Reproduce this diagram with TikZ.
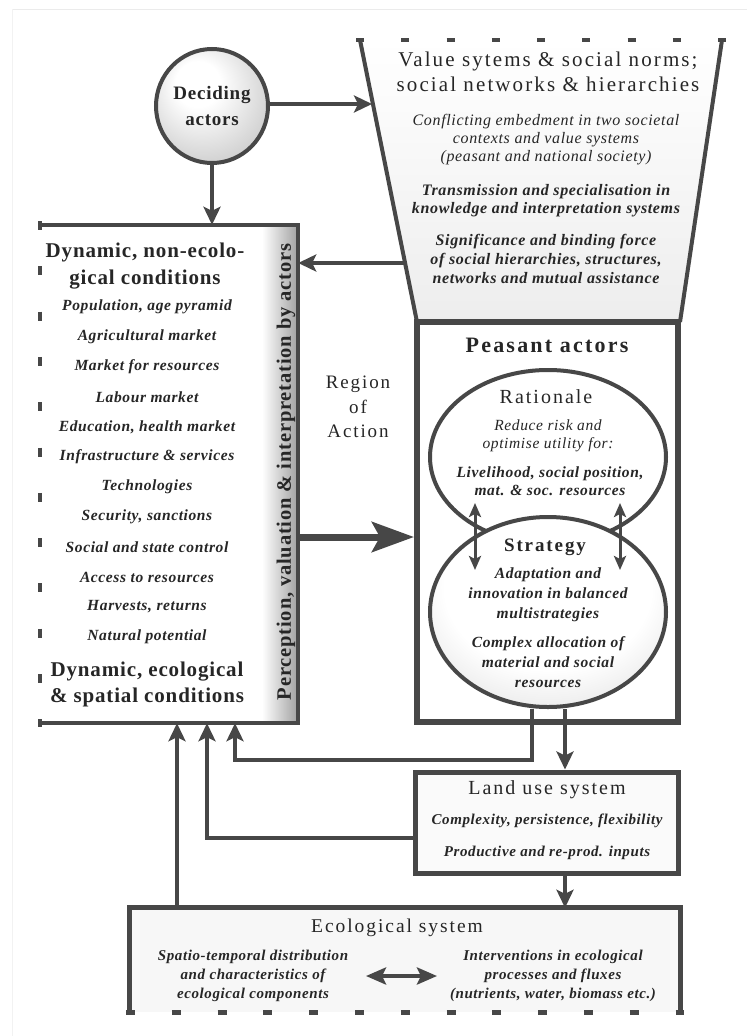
\documentclass[tikz,border=0pt]{standalone}
\usepackage{fontspec}
\setmainfont[LetterSpace=4]{Liberation Serif}
\newfontfamily\wide[LetterSpace=10]{Liberation Serif}
\usetikzlibrary{arrows.meta,shapes.geometric,calc}
\newcommand\fsz[2]{\fontsize{#1}{#2}\selectfont}
\pgfdeclareradialshading{glowA}{\pgfpoint{-8bp}{12bp}}{color(0bp)=(white); color(10bp)=(white); color(30bp)=(black!18); color(45bp)=(black!38); color(50bp)=(black!40)}
\pgfdeclareradialshading{glowB}{\pgfpoint{0bp}{12bp}}{color(0bp)=(white); color(22bp)=(white); color(38bp)=(black!14); color(50bp)=(black!32)}
\begin{document}
\begin{tikzpicture}[x=1pt,y=-1pt,
  every node/.style={text=black!85, inner sep=0pt, align=center},
  ln/.style={draw=black!72, line width=4pt},
  arr/.style={ln, -{Stealth[length=18pt,width=17pt,inset=4pt]}},
  bigarr/.style={draw=black!72, line width=7pt, -{Stealth[length=42pt,width=30pt,inset=8pt]}},
  darr/.style={draw=black!72, line width=3pt, {Stealth[length=14pt,width=12pt,inset=3pt]}-{Stealth[length=14pt,width=12pt,inset=3pt]}},
  ecoarr/.style={draw=black!72, line width=4pt, {Stealth[length=20pt,width=17pt,inset=4pt]}-{Stealth[length=20pt,width=17pt,inset=4pt]}},
  head/.style={font=\bfseries\fsz{21}{25}},
  item/.style={font=\bfseries\itshape\fsz{15.5}{18}},
  ititem/.style={font=\itshape\fsz{16}{18}},
  bititem/.style={font=\bfseries\itshape\fsz{16}{18.5}},
  title/.style={font=\wide\fsz{20}{24}}
]
\useasboundingbox (0,0) rectangle (747,1036);
\fill[white] (0,0) rectangle (747,1036);
\draw[black!8, line width=0.8pt] (12,9) -- (747,9);
\draw[black!5, line width=0.8pt] (12,9) -- (12,1036);

% ---------- left box ----------
\node[minimum width=258pt, minimum height=498pt] (left) at (169,474) {};
\fill[white] (left.north west) rectangle (left.south east);
\shade[left color=white, right color=black!35] (262,225) rectangle (296,723);
\draw[ln, line width=4.5pt] (left.north west) -- (left.north east) -- (left.south east) -- (left.south west);
\draw[ln, line width=4.5pt, dash pattern=on 9pt off 36.3pt] (40,221) -- (40,727);
\node[head] (lh1) at (145,252) {Dynamic, non-ecolo-};
\node[head] (lh2) at (145,280) {gical conditions};
\foreach \t [count=\i] in {{Population, age pyramid},{Agricultural market},{Market for resources},{Labour market},{Education, health market},{Infrastructure \& services},{Technologies},{Security, sanctions},{Social and state control},{Access to resources},{Harvests, returns},{Natural potential}}
  \node[item] (li\i) at (147,{277+30*\i}) {\t};
\node[head] (lh3) at (147,672) {Dynamic, ecological};
\node[head] (lh4) at (147,697) {\& spatial conditions};
\node[font=\bfseries\fsz{20.5}{24}, rotate=90] (pv) at (286,472) {Perception, valuation \& interpretation by actors};

% ---------- trapezoid ----------
\coordinate (tTL) at (360,40);
\coordinate (tTR) at (722,40);
\coordinate (tBR) at (680,322);
\coordinate (tBL) at (417,322);
\shade[top color=white, bottom color=black!7] (tTL) -- (tTR) -- (tBR) -- (tBL) -- cycle;
\draw[ln] (tTR) -- (tBR);
\draw[ln] (tTL) -- (tBL);
\draw[ln, dash pattern=on 8pt off 37.25pt] (356,40) -- (726,40);
\node[title, font=\wide\fsz{21}{25}] (v1) at (548,72) {Value sytems \& social norms;\\social networks \& hierarchies};
\node[ititem] (v2) at (546,140) {Conflicting embedment in two societal\\contexts and value systems\\(peasant and national society)};
\node[bititem, font=\bfseries\itshape\fsz{16}{18}] (v3) at (546,201) {Transmission and specialisation in\\knowledge and interpretation systems};
\node[bititem, font=\bfseries\itshape\fsz{16}{19}] (v4) at (546,259) {Significance and binding force\\of social hierarchies, structures,\\networks and mutual assistance};

% ---------- peasant actors ----------
\node[draw=black!72, line width=6pt, fill=white, minimum width=261pt, minimum height=400pt] (peas) at (547.5,522) {};
\node[font=\wide\bfseries\fsz{22}{26}] (pa) at (547,345) {Peasant actors};
\node[ellipse, draw=black!72, line width=4pt, fill=white, minimum width=236pt, minimum height=174pt] (rat) at (548,457) {};
\node[ellipse, draw=black!72, line width=4pt, shading=glowB, minimum width=236pt, minimum height=190pt] (str) at (548,612) {};
\node[title] (rt) at (546,397) {Rationale};
\node[font=\itshape\fsz{15.5}{18}] (r1) at (548,436) {Reduce risk and\\optimise utility for:};
\node[item] (r2) at (550,481) {Livelihood, social position,\\mat. \& soc. resources};
\node[font=\wide\bfseries\fsz{19}{22}] (st) at (545,547) {Strategy};
\node[item, font=\bfseries\itshape\fsz{15.5}{20}] (s1) at (548,595) {Adaptation and\\innovation in balanced\\multistrategies};
\node[item, font=\bfseries\itshape\fsz{15.5}{20}] (s2) at (548,662) {Complex allocation of\\material and social\\resources};
\coordinate (d1a) at (475,503);
\coordinate (d1b) at (475,570);
\coordinate (d2a) at (620,503);
\coordinate (d2b) at (620,570);
\draw[darr] (d1a) -- (d1b);
\draw[darr] (d2a) -- (d2b);

% ---------- region of action ----------
\node[font=\wide\fsz{19}{24.5}] (roa) at (358,407) {Region\\of\\Action};

% ---------- deciding actors ----------
\node[ellipse, draw=black!72, line width=4pt, shading=glowA, minimum width=112pt, minimum height=114pt, font=\bfseries\fsz{19}{26}] (dec) at (212,106) {Deciding\\actors};

% ---------- land use ----------
\node[draw=black!72, line width=5pt, fill=black!2, minimum width=263pt, minimum height=101pt] (lu) at (546.5,822.5) {};
\node[title] (lut) at (547,790) {Land use system};
\node[item, font=\bfseries\itshape\fsz{15}{18}] (lu1) at (547,821) {Complexity, persistence, flexibility};
\node[item, font=\bfseries\itshape\fsz{15}{18}] (lu2) at (547,853) {Productive and re-prod. inputs};

% ---------- ecological ----------
\node[minimum width=550pt, minimum height=104pt] (eco) at (405,960) {};
\fill[black!3] (eco.north west) rectangle (eco.south east);
\draw[ln, line width=5pt] (eco.south west) -- (eco.north west) -- (eco.north east) -- (eco.south east);
\draw[ln, line width=5pt, dash pattern=on 9pt off 36.8pt] (126,1012) -- (684,1012);
\node[title, font=\wide\fsz{19.5}{24}] (ect) at (397,928) {Ecological system};
\node[item, font=\bfseries\itshape\fsz{15}{19}] (ecoL) at (253,976) {Spatio-temporal distribution\\and characteristics of\\ecological components};
\node[item, font=\bfseries\itshape\fsz{15}{19}] (ecoR) at (553,976) {Interventions in ecological\\processes and fluxes\\(nutrients, water, biomass etc.)};
\coordinate (ea) at (366,976);
\coordinate (eb) at (437,976);
\draw[ecoarr] (ea) -- (eb);

% ---------- connectors ----------
\coordinate (x177) at (177,0);
\coordinate (x207) at (207,0);
\coordinate (x235) at (235,0);
\coordinate (x532) at (532,0);
\coordinate (x565) at (565,0);
\coordinate (y537) at (0,537);
\coordinate (y760) at (0,760);
\coordinate (y838) at (0,838);
\coordinate (trapT) at (372,104);
\coordinate (trapL) at (405,263);
\draw[arr] (dec.east |- trapT) -- (trapT);
\draw[arr] (dec.south) -- (dec.south |- left.north);
\draw[arr] (trapL) -- (left.east |- trapL);
\draw[bigarr] (left.east |- y537) -- (peas.west |- y537);
\draw[arr] (x532 |- str.south) |- (x235 |- y760) -- (x235 |- left.south);
\draw[arr] (x565 |- str.south) -- (x565 |- lu.north);
\draw[arr] (lu.west |- y838) -| (x207 |- left.south);
\draw[arr] (x177 |- eco.north) -- (x177 |- left.south);
\draw[arr] (x565 |- lu.south) -- (x565 |- eco.north);
\end{tikzpicture}
\end{document}
